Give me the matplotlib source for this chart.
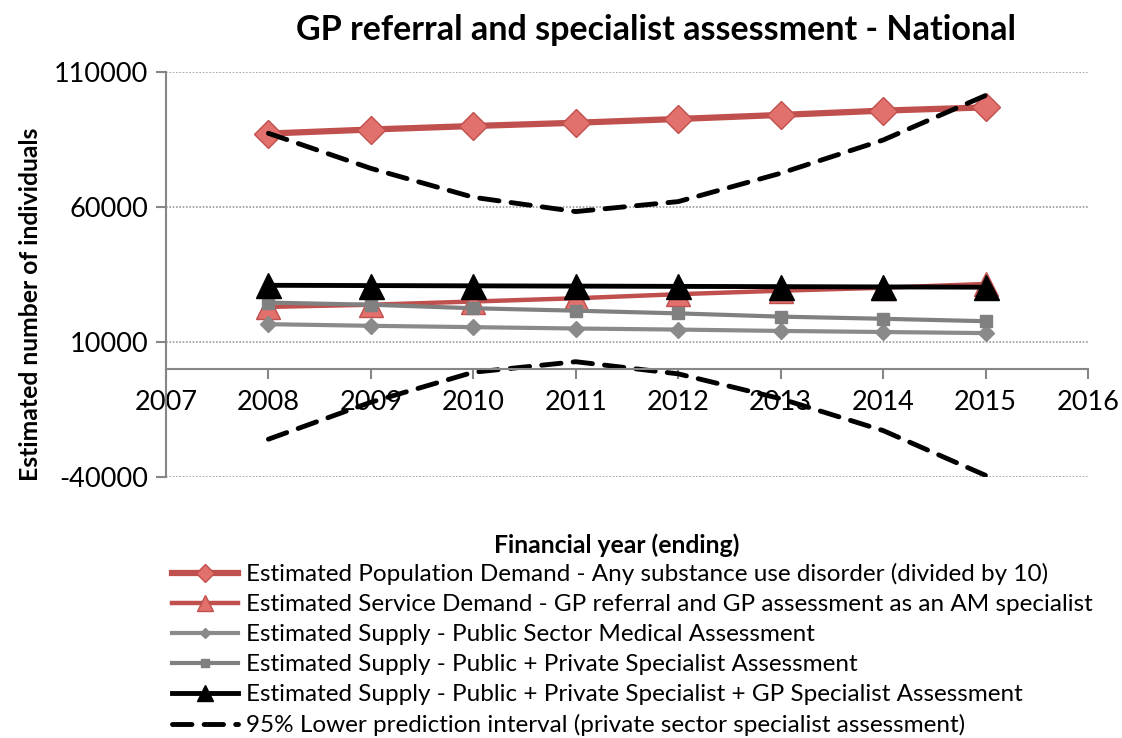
import matplotlib
matplotlib.use("Agg")
import matplotlib.pyplot as plt

plt.rcParams['font.family'] = ['Lato', 'DejaVu Sans']

years = [2008, 2009, 2010, 2011, 2012, 2013, 2014, 2015]

population_demand = [87200, 88700, 90000, 91200, 92600, 94100, 95700, 96900]
service_demand = [23000, 23800, 25000, 26200, 27700, 29000, 30100, 31500]
public_medical = [16600, 16000, 15500, 15000, 14600, 14100, 13700, 13300]
public_private = [24600, 23800, 22500, 21600, 20600, 19400, 18600, 17700]
supply_total = [31000, 30900, 30800, 30700, 30600, 30500, 30400, 30300]
pi_upper = [87300, 74300, 63600, 58300, 62000, 72500, 84800, 101300]
pi_lower = [-26000, -12300, -1200, 2700, -1800, -11000, -22800, -39400]

labels = [
    "Estimated Population Demand - Any substance use disorder (divided by 10)",
    "Estimated Service Demand - GP referral and GP assessment as an AM specialist",
    "Estimated Supply - Public Sector Medical Assessment",
    "Estimated Supply - Public + Private Specialist Assessment",
    "Estimated Supply - Public + Private Specialist + GP Specialist Assessment",
    "95% Lower prediction interval (private sector specialist assessment)",
]

x_ticks = list(range(2007, 2017))
y_ticks = [-40000, 10000, 60000, 110000]

RED = "#C0504D"
RED_FILL = "#E2706C"
GREY1 = "#8A8A8A"
GREY2 = "#808080"

fig = plt.figure(figsize=(11.22, 7.38), dpi=100)
ax = fig.add_axes([166 / 1122, 1 - 477 / 738, (1088 - 166) / 1122, (477 - 72) / 738])

handles = []
h, = ax.plot(years, population_demand, color=RED, lw=4.5, marker="D",
             markersize=14, markerfacecolor=RED_FILL, markeredgecolor=RED,
             markeredgewidth=1)
handles.append(h)
h, = ax.plot(years, service_demand, color=RED, lw=3.2, marker="^",
             markersize=17, markerfacecolor=RED_FILL, markeredgecolor=RED,
             markeredgewidth=1)
handles.append(h)
h, = ax.plot(years, public_medical, color=GREY1, lw=3, marker="D",
             markersize=8, markerfacecolor=GREY1, markeredgecolor=GREY1)
handles.append(h)
h, = ax.plot(years, public_private, color=GREY2, lw=3, marker="s",
             markersize=8, markerfacecolor=GREY2, markeredgecolor=GREY2)
handles.append(h)
h, = ax.plot(years, supply_total, color="black", lw=3.5, marker="^",
             markersize=18, markerfacecolor="black", markeredgecolor="black")
handles.append(h)
h, = ax.plot(years, pi_lower, color="black", lw=3.5, ls=(0, (4, 2.5)),
             dash_capstyle="round")
handles.append(h)
ax.plot(years, pi_upper, color="black", lw=3.5, ls=(0, (4, 2.5)),
        dash_capstyle="round")

ax.set_xlim(2007, 2016)
ax.set_ylim(-40000, 110000)
ax.set_xticks(x_ticks)
ax.set_yticks(y_ticks)
ax.set_xticklabels([str(v) for v in x_ticks])
ax.set_yticklabels([str(v) for v in y_ticks])

for y in y_ticks:
    ax.axhline(y, color="#9A9A9A", lw=1.2, ls=(0, (1, 1)), zorder=0)

for side in ("top", "right"):
    ax.spines[side].set_visible(False)
ax.spines["bottom"].set_position(("data", 0))
for side in ("left", "bottom"):
    ax.spines[side].set_color("#868686")
    ax.spines[side].set_linewidth(1.5)
ax.tick_params(axis="both", which="major", direction="out", length=7,
               width=1.5, color="#868686", labelsize=19.5)
ax.tick_params(axis="x", pad=8)
ax.tick_params(axis="y", pad=6)

fig.text(656 / 1122, 1 - 30 / 738, "GP referral and specialist assessment - National",
         ha="center", va="center", fontsize=24.5, fontweight="bold")
fig.text(31 / 1122, 1 - 304 / 738, "Estimated number of individuals",
         rotation=90, ha="center", va="center", fontsize=17.8, fontweight="bold")
fig.text(617 / 1122, 1 - 545 / 738, "Financial year (ending)",
         ha="center", va="center", fontsize=17.8, fontweight="bold")

fig.legend(handles, labels, loc="upper left",
           bbox_to_anchor=(172 / 1122, 1 - 563 / 738), frameon=False,
           fontsize=17.5, handlelength=2.7, handletextpad=0.35,
           labelspacing=0.37, borderaxespad=0, borderpad=0, markerscale=0.65)

fig.savefig("out.png", dpi=100)
